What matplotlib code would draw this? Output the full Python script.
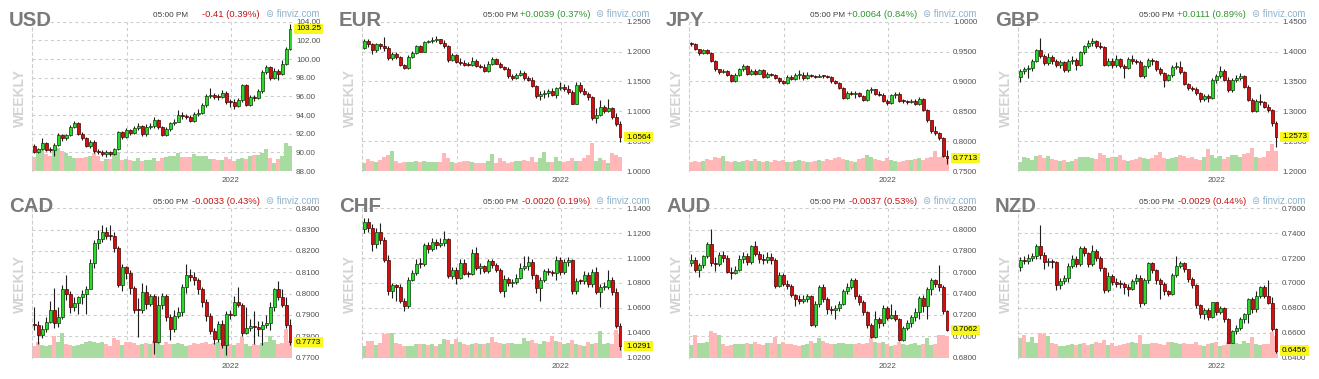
import matplotlib.pyplot as plt
import matplotlib.transforms as mtransforms
from matplotlib.ticker import FormatStrFormatter
import numpy as np

plt.rcParams['font.family'] = ['Liberation Sans', 'DejaVu Sans']
plt.rcParams['lines.scale_dashes'] = False

W, H = 1319, 379

# ---- datos semanales ----
usd_open0 = 90.7
usd_close = [90.0, 90.35, 91.0, 90.3, 90.2, 90.8, 91.9, 91.5, 91.85, 92.7,
             93.1, 92.0, 91.5, 90.7, 91.1, 90.1, 90.0, 89.8, 90.0, 89.8,
             90.35, 92.15, 91.6, 92.4, 92.1, 92.6, 92.8, 92.0, 92.75, 92.85,
             93.5, 92.7, 91.9, 92.5, 93.1, 93.3, 94.0, 93.85, 93.8, 93.4,
             94.1, 94.25, 95.1, 96.0, 96.1, 95.95, 95.9, 96.4, 95.4, 95.35,
             95.0, 95.6, 97.2, 95.1, 95.9, 95.8, 96.6, 98.6, 99.1, 98.0,
             98.7, 98.4, 99.5, 101.1, 103.25]
usd_high = [90.9, 90.5, 91.5, 91.1, 90.6, 91.0, 92.1, 92.0, 92.0, 92.9,
            93.4, 93.2, 92.2, 91.6, 91.3, 91.3, 90.4, 90.2, 90.2, 90.1,
            90.5, 92.3, 92.3, 92.6, 92.5, 92.8, 93.1, 92.9, 93.0, 93.1,
            93.8, 93.6, 92.8, 92.7, 93.3, 93.6, 94.5, 94.3, 94.1, 94.0,
            94.3, 94.6, 95.3, 96.3, 96.9, 96.4, 96.3, 96.7, 96.6, 95.7,
            95.7, 95.8, 97.3, 97.3, 96.1, 96.1, 96.8, 98.8, 99.4, 99.3,
            99.0, 98.9, 99.9, 101.3, 103.8]
usd_low = [89.9, 89.9, 90.3, 90.1, 90.0, 89.6, 90.7, 91.2, 91.3, 91.8,
           92.6, 91.9, 91.3, 90.6, 90.5, 89.9, 89.8, 89.6, 89.5, 89.6,
           89.7, 90.2, 91.4, 91.5, 91.9, 92.0, 92.4, 91.8, 91.8, 92.5,
           92.6, 92.5, 91.7, 91.8, 92.3, 92.9, 93.2, 93.6, 93.6, 93.2,
           93.3, 93.9, 94.1, 94.9, 95.8, 95.7, 95.6, 95.8, 95.2, 94.9,
           94.6, 94.9, 95.4, 95.0, 95.0, 95.5, 95.7, 96.4, 98.4, 97.7,
           97.9, 97.7, 98.3, 99.4, 101.0]
usd_vol = [14, 18, 22, 17, 15, 20, 23, 20, 18, 15, 13, 13, 13, 14, 15, 18, 15, 10, 12, 12,
           18, 19, 11, 12, 11, 10, 13, 10, 11, 11, 13, 10, 13, 14, 15, 15, 18, 14, 14, 14,
           17, 15, 15, 15, 12, 12, 11, 11, 14, 12, 10, 12, 13, 12, 15, 16, 16, 18, 22, 13,
           8, 12, 15, 28, 25]

eur_open0 = 1.2063
eur_close = [1.2175, 1.212, 1.2025, 1.212, 1.209, 1.2065, 1.189, 1.196, 1.191, 1.178,
             1.1725, 1.191, 1.198, 1.209, 1.200, 1.216, 1.2175, 1.220, 1.2205, 1.2145,
             1.210, 1.1865, 1.195, 1.182, 1.181, 1.178, 1.177, 1.185, 1.175, 1.174,
             1.168, 1.180, 1.188, 1.180, 1.174, 1.171, 1.1585, 1.156, 1.161, 1.164,
             1.156, 1.153, 1.142, 1.126, 1.1295, 1.131, 1.1335, 1.128, 1.139, 1.140,
             1.1375, 1.132, 1.113, 1.1445, 1.1335, 1.1295, 1.124, 1.089, 1.094, 1.107,
             1.100, 1.1055, 1.090, 1.079, 1.0564]
eur_high = [1.2205, 1.2215, 1.214, 1.2145, 1.2135, 1.2245, 1.2085, 1.199, 1.1985, 1.192,
            1.180, 1.1935, 1.2015, 1.2105, 1.211, 1.2175, 1.2200, 1.2245, 1.2265, 1.2215,
            1.2195, 1.2115, 1.1975, 1.196, 1.1885, 1.1855, 1.1830, 1.1905, 1.1875, 1.1785,
            1.1785, 1.1835, 1.1905, 1.1885, 1.1825, 1.1755, 1.1745, 1.162, 1.1645, 1.1695,
            1.167, 1.1595, 1.1575, 1.1435, 1.1335, 1.135, 1.1375, 1.1385, 1.1410, 1.1485,
            1.145, 1.1435, 1.1355, 1.1495, 1.1495, 1.1385, 1.1325, 1.1255, 1.1060, 1.1185,
            1.1105, 1.1205, 1.1065, 1.0965, 1.0835]
eur_low = [1.2035, 1.2075, 1.1955, 1.1995, 1.2045, 1.2010, 1.1855, 1.1855, 1.1875, 1.1755,
           1.1705, 1.1705, 1.1900, 1.1955, 1.1985, 1.1985, 1.2135, 1.2145, 1.2160, 1.2130,
           1.2065, 1.1825, 1.1845, 1.1805, 1.1780, 1.1765, 1.1750, 1.1760, 1.1735, 1.1725,
           1.1665, 1.1665, 1.1775, 1.1785, 1.1725, 1.1685, 1.1555, 1.1525, 1.1545, 1.1585,
           1.1530, 1.1505, 1.1400, 1.1220, 1.1185, 1.1225, 1.1235, 1.1255, 1.1225, 1.1355,
           1.1345, 1.1285, 1.1120, 1.1120, 1.1305, 1.1275, 1.1195, 1.0860, 1.0805, 1.0925,
           1.0965, 1.0985, 1.0875, 1.0760, 1.0485]
eur_vol = [8, 12, 10, 9, 11, 14, 16, 20, 10, 8, 9, 9, 9, 10, 9, 10, 9, 9, 9, 9,
           18, 13, 9, 8, 9, 10, 10, 9, 8, 8, 8, 10, 17, 8, 13, 10, 8, 9, 10, 10,
           11, 10, 14, 9, 13, 19, 9, 9, 14, 10, 9, 10, 13, 10, 10, 13, 16, 28, 10, 13,
           11, 8, 18, 16, 14]

jpy_open0 = 0.9640
jpy_close = [0.9632, 0.9535, 0.9468, 0.952, 0.948, 0.934, 0.920, 0.9154, 0.9170, 0.9110,
             0.9013, 0.9115, 0.920, 0.9266, 0.913, 0.918, 0.913, 0.9187, 0.9075, 0.913,
             0.911, 0.906, 0.900, 0.8975, 0.9075, 0.904, 0.910, 0.9115, 0.905, 0.9115,
             0.9095, 0.908, 0.9095, 0.9085, 0.908, 0.900, 0.8975, 0.889, 0.872, 0.881,
             0.879, 0.881, 0.875, 0.8694, 0.885, 0.8873, 0.8795, 0.878, 0.868, 0.8638,
             0.878, 0.8795, 0.8666, 0.8664, 0.866, 0.8675, 0.8627, 0.8705, 0.8526, 0.8347,
             0.8162, 0.8133, 0.805, 0.7752, 0.7713]
jpy_high = [0.9665, 0.9650, 0.9550, 0.9545, 0.9540, 0.9500, 0.9360, 0.9215, 0.9215, 0.9190,
            0.9125, 0.9135, 0.9225, 0.9290, 0.9275, 0.9210, 0.9200, 0.9215, 0.9200, 0.9150,
            0.9145, 0.9125, 0.9075, 0.9020, 0.9100, 0.9100, 0.9140, 0.9190, 0.9150, 0.9150,
            0.9130, 0.9115, 0.9130, 0.9115, 0.9105, 0.9090, 0.9020, 0.8990, 0.8900, 0.8835,
            0.8840, 0.8840, 0.8825, 0.8770, 0.8865, 0.8900, 0.8880, 0.8835, 0.8800, 0.8700,
            0.8790, 0.8820, 0.8815, 0.8700, 0.8690, 0.8700, 0.8705, 0.8735, 0.8720, 0.8540,
            0.8360, 0.8250, 0.8160, 0.8070, 0.7845]
jpy_low = [0.9600, 0.9520, 0.9440, 0.9455, 0.9455, 0.9320, 0.9180, 0.9130, 0.9140, 0.9085,
           0.8990, 0.8995, 0.9095, 0.9175, 0.9115, 0.9110, 0.9105, 0.9120, 0.9050, 0.9065,
           0.9085, 0.9035, 0.8980, 0.8955, 0.8960, 0.9020, 0.9020, 0.9035, 0.9030, 0.9035,
           0.9075, 0.9060, 0.9070, 0.9065, 0.9060, 0.8980, 0.8950, 0.8870, 0.8700, 0.8700,
           0.8765, 0.8730, 0.8735, 0.8665, 0.8670, 0.8810, 0.8775, 0.8760, 0.8660, 0.8600,
           0.8620, 0.8730, 0.8650, 0.8635, 0.8620, 0.8640, 0.8600, 0.8600, 0.8500, 0.8320,
           0.8130, 0.8100, 0.8020, 0.7735, 0.7625]
jpy_vol = [9, 10, 9, 10, 12, 11, 14, 13, 15, 10, 9, 10, 9, 10, 11, 10, 12, 10, 9, 10,
           9, 11, 10, 11, 9, 9, 10, 11, 10, 9, 9, 10, 11, 10, 12, 11, 13, 14, 12, 11,
           10, 9, 12, 13, 16, 14, 12, 11, 10, 13, 11, 10, 9, 10, 11, 11, 12, 13, 11, 13,
           14, 20, 14, 15, 12]

gbp_open0 = 1.3575
gbp_close = [1.367, 1.370, 1.3726, 1.385, 1.402, 1.392, 1.381, 1.391, 1.384, 1.378,
             1.382, 1.3687, 1.384, 1.3866, 1.378, 1.399, 1.409, 1.4147, 1.4175, 1.410,
             1.408, 1.378, 1.384, 1.378, 1.388, 1.3755, 1.3726, 1.388, 1.384, 1.383,
             1.3586, 1.3755, 1.3866, 1.3840, 1.371, 1.3642, 1.353, 1.360, 1.374, 1.3745,
             1.3654, 1.3463, 1.339, 1.3375, 1.3306, 1.3205, 1.326, 1.3222, 1.353, 1.3586,
             1.367, 1.353, 1.335, 1.352, 1.356, 1.3586, 1.3407, 1.3194, 1.300, 1.3166,
             1.3155, 1.307, 1.3015, 1.280, 1.2573]
gbp_high = [1.3710, 1.3745, 1.3775, 1.3880, 1.4040, 1.4230, 1.3965, 1.3970, 1.3950, 1.3875,
            1.3860, 1.3850, 1.3875, 1.3930, 1.3900, 1.4010, 1.4110, 1.4200, 1.4220, 1.4200,
            1.4160, 1.4090, 1.3890, 1.3890, 1.3950, 1.3890, 1.3790, 1.3910, 1.3940, 1.3880,
            1.3860, 1.3780, 1.3890, 1.3900, 1.3860, 1.3740, 1.3660, 1.3630, 1.3770, 1.3830,
            1.3840, 1.3680, 1.3480, 1.3430, 1.3400, 1.3320, 1.3290, 1.3290, 1.3560, 1.3620,
            1.3750, 1.3700, 1.3580, 1.3560, 1.3600, 1.3640, 1.3610, 1.3440, 1.3220, 1.3200,
            1.3290, 1.3180, 1.3120, 1.3040, 1.2840]
gbp_low = [1.3490, 1.3620, 1.3560, 1.3680, 1.3820, 1.3890, 1.3780, 1.3780, 1.3800, 1.3740,
           1.3720, 1.3660, 1.3650, 1.3790, 1.3690, 1.3760, 1.3960, 1.4060, 1.4100, 1.4060,
           1.4040, 1.3760, 1.3750, 1.3720, 1.3740, 1.3720, 1.3560, 1.3700, 1.3800, 1.3790,
           1.3570, 1.3560, 1.3730, 1.3770, 1.3680, 1.3610, 1.3410, 1.3510, 1.3570, 1.3700,
           1.3620, 1.3440, 1.3350, 1.3340, 1.3280, 1.3160, 1.3170, 1.3160, 1.3200, 1.3480,
           1.3560, 1.3510, 1.3330, 1.3330, 1.3490, 1.3520, 1.3390, 1.3170, 1.2990, 1.2980,
           1.3100, 1.3050, 1.2990, 1.2760, 1.2410]
gbp_vol = [9, 14, 13, 11, 15, 16, 13, 15, 12, 11, 10, 11, 9, 10, 12, 14, 14, 14, 13, 12,
           18, 16, 13, 14, 14, 16, 11, 10, 11, 12, 14, 13, 12, 13, 16, 19, 13, 12, 13, 14,
           16, 15, 13, 14, 12, 11, 14, 22, 16, 13, 15, 12, 14, 16, 16, 14, 17, 18, 23, 14,
           13, 14, 20, 27, 20]

cad_open0 = 0.7855
cad_close = [0.7852, 0.7805, 0.7832, 0.7868, 0.7922, 0.7860, 0.7890, 0.8021, 0.7996, 0.7935,
             0.7955, 0.7982, 0.7998, 0.8020, 0.8142, 0.8236, 0.8254, 0.8290, 0.8270, 0.8268,
             0.8212, 0.8040, 0.8123, 0.8095, 0.8024, 0.7925, 0.7922, 0.8009, 0.7951, 0.7988,
             0.7774, 0.7946, 0.7988, 0.7891, 0.7832, 0.7894, 0.7915, 0.8029, 0.8087, 0.8080,
             0.8066, 0.8020, 0.7962, 0.7894, 0.7825, 0.7785, 0.7857, 0.7758, 0.7904, 0.7900,
             0.7962, 0.7946, 0.7813, 0.7841, 0.7847, 0.7844, 0.7832, 0.7852, 0.7863, 0.7938,
             0.8020, 0.7982, 0.7946, 0.7852, 0.7773]
cad_high = [0.7935, 0.7870, 0.7855, 0.7890, 0.7965, 0.8024, 0.7935, 0.8040, 0.8087, 0.8010,
            0.7985, 0.7990, 0.8015, 0.8035, 0.8160, 0.8250, 0.8300, 0.8320, 0.8310, 0.8322,
            0.8290, 0.8225, 0.8140, 0.8130, 0.8110, 0.8035, 0.7980, 0.8048, 0.8040, 0.8000,
            0.8000, 0.7990, 0.8005, 0.8000, 0.7905, 0.7925, 0.7935, 0.8045, 0.8138, 0.8115,
            0.8100, 0.8075, 0.8030, 0.7975, 0.7910, 0.7840, 0.7870, 0.7875, 0.7920, 0.7925,
            0.7990, 0.8029, 0.7955, 0.7935, 0.7880, 0.7920, 0.7870, 0.7870, 0.7900, 0.7960,
            0.8025, 0.8060, 0.8020, 0.7985, 0.7880]
cad_low = [0.7830, 0.7763, 0.7790, 0.7820, 0.7860, 0.7840, 0.7845, 0.7880, 0.7970, 0.7910,
           0.7920, 0.7905, 0.7950, 0.7905, 0.8085, 0.8120, 0.8210, 0.8240, 0.8255, 0.8250,
           0.8195, 0.8030, 0.8010, 0.8070, 0.8000, 0.7910, 0.7797, 0.7910, 0.7930, 0.7940,
           0.7719, 0.7770, 0.7930, 0.7870, 0.7782, 0.7820, 0.7885, 0.7895, 0.8005, 0.8060,
           0.8040, 0.8000, 0.7935, 0.7870, 0.7810, 0.7765, 0.7775, 0.7745, 0.7711, 0.7880,
           0.7895, 0.7935, 0.7800, 0.7810, 0.7825, 0.7765, 0.7800, 0.7760, 0.7840, 0.7830,
           0.7920, 0.7970, 0.7935, 0.7840, 0.7760]
cad_vol = [12, 16, 13, 12, 13, 22, 16, 25, 14, 13, 12, 13, 14, 16, 17, 16, 15, 16, 14, 12,
           20, 18, 13, 16, 16, 15, 13, 14, 15, 14, 17, 16, 13, 16, 14, 14, 15, 14, 12, 13,
           15, 14, 15, 16, 14, 15, 16, 15, 17, 14, 13, 15, 21, 14, 12, 14, 13, 15, 16, 22,
           18, 14, 15, 29, 17]

chf_open0 = 1.1230
chf_close = [1.1292, 1.1238, 1.1111, 1.1211, 1.1144, 1.0987, 1.0734, 1.0780, 1.0766, 1.0658,
             1.0618, 1.0826, 1.0880, 1.0955, 1.0950, 1.1103, 1.1076, 1.1130, 1.1103, 1.1120,
             1.1150, 1.0853, 1.0901, 1.0842, 1.0960, 1.0874, 1.0869, 1.1041, 1.0923, 1.0934,
             1.0896, 1.0977, 1.0942, 1.0901, 1.0739, 1.0834, 1.0799, 1.0807, 1.0842, 1.0923,
             1.0934, 1.0969, 1.0861, 1.0761, 1.0826, 1.0896, 1.0890, 1.0882, 1.0987, 1.0888,
             1.0969, 1.0982, 1.0734, 1.0815, 1.0812, 1.0861, 1.0788, 1.0888, 1.0726, 1.0766,
             1.0770, 1.0826, 1.0726, 1.0456, 1.0291]
chf_high = [1.1320, 1.1325, 1.1275, 1.1240, 1.1279, 1.1170, 1.1025, 1.0800, 1.0795, 1.0790,
            1.0680, 1.0850, 1.0905, 1.0990, 1.1000, 1.1125, 1.1130, 1.1160, 1.1150, 1.1160,
            1.1220, 1.1165, 1.0930, 1.0925, 1.0990, 1.0990, 1.0900, 1.1070, 1.1090, 1.0960,
            1.0945, 1.0995, 1.0990, 1.0960, 1.0920, 1.0860, 1.0850, 1.0835, 1.0870, 1.0960,
            1.1015, 1.1014, 1.0990, 1.0870, 1.0845, 1.0910, 1.0920, 1.0905, 1.1015, 1.1005,
            1.0990, 1.1010, 1.0995, 1.0840, 1.0835, 1.0900, 1.0890, 1.0910, 1.0930, 1.0790,
            1.0805, 1.0905, 1.0845, 1.0760, 1.0480]
chf_low = [1.1205, 1.1210, 1.1057, 1.1080, 1.1110, 1.0965, 1.0700, 1.0680, 1.0658, 1.0640,
           1.0572, 1.0600, 1.0815, 1.0860, 1.0920, 1.0935, 1.1040, 1.1060, 1.1075, 1.1085,
           1.1100, 1.0840, 1.0830, 1.0793, 1.0830, 1.0860, 1.0845, 1.0860, 1.0905, 1.0874,
           1.0880, 1.0880, 1.0920, 1.0890, 1.0720, 1.0690, 1.0775, 1.0770, 1.0790, 1.0830,
           1.0905, 1.0905, 1.0830, 1.0720, 1.0658, 1.0810, 1.0860, 1.0855, 1.0820, 1.0860,
           1.0870, 1.0940, 1.0710, 1.0715, 1.0790, 1.0790, 1.0770, 1.0770, 1.0715, 1.0605,
           1.0740, 1.0750, 1.0700, 1.0440, 1.0265]
chf_vol = [12, 17, 17, 13, 15, 24, 25, 25, 15, 14, 12, 12, 12, 14, 14, 14, 13, 14, 12, 14,
           19, 18, 14, 19, 16, 14, 13, 14, 15, 14, 14, 15, 21, 16, 15, 14, 15, 15, 14, 14,
           20, 17, 18, 15, 14, 17, 16, 22, 17, 16, 14, 15, 18, 14, 13, 12, 16, 14, 15, 27,
           14, 15, 14, 28, 24]

aud_open0 = 0.7687
aud_close = [0.7719, 0.7624, 0.7665, 0.7750, 0.7863, 0.7687, 0.7675, 0.7760, 0.7737, 0.7602,
             0.7593, 0.7624, 0.7728, 0.7750, 0.7697, 0.7844, 0.7775, 0.7728, 0.7712, 0.7744,
             0.7712, 0.7476, 0.7571, 0.7486, 0.7476, 0.7391, 0.7350, 0.7335, 0.7350, 0.7373,
             0.7108, 0.7303, 0.7461, 0.7350, 0.7256, 0.7247, 0.7266, 0.7303, 0.7423, 0.7461,
             0.7530, 0.7373, 0.7319, 0.7225, 0.7108, 0.6989, 0.7162, 0.7120, 0.7266, 0.7171,
             0.7203, 0.7162, 0.6964, 0.7077, 0.7120, 0.7184, 0.7225, 0.7360, 0.7288, 0.7445,
             0.7524, 0.7486, 0.7461, 0.7234, 0.7062]
aud_high = [0.7775, 0.7740, 0.7690, 0.7765, 0.7880, 0.8002, 0.7745, 0.7790, 0.7800, 0.7760,
            0.7650, 0.7660, 0.7760, 0.7790, 0.7780, 0.7860, 0.7895, 0.7800, 0.7770, 0.7790,
            0.7780, 0.7730, 0.7600, 0.7590, 0.7530, 0.7490, 0.7400, 0.7390, 0.7385, 0.7400,
            0.7390, 0.7330, 0.7480, 0.7490, 0.7370, 0.7280, 0.7290, 0.7330, 0.7440, 0.7500,
            0.7549, 0.7550, 0.7400, 0.7340, 0.7240, 0.7120, 0.7235, 0.7185, 0.7290, 0.7280,
            0.7303, 0.7250, 0.7175, 0.7100, 0.7150, 0.7200, 0.7265, 0.7380, 0.7390, 0.7460,
            0.7550, 0.7540, 0.7665, 0.7480, 0.7250]
aud_low = [0.7660, 0.7600, 0.7560, 0.7640, 0.7730, 0.7660, 0.7610, 0.7660, 0.7700, 0.7590,
           0.7540, 0.7580, 0.7610, 0.7690, 0.7670, 0.7680, 0.7750, 0.7690, 0.7680, 0.7690,
           0.7680, 0.7450, 0.7460, 0.7470, 0.7440, 0.7370, 0.7288, 0.7300, 0.7310, 0.7320,
           0.7095, 0.7090, 0.7270, 0.7320, 0.7210, 0.7210, 0.7160, 0.7240, 0.7290, 0.7400,
           0.7440, 0.7350, 0.7290, 0.7200, 0.7080, 0.6980, 0.6980, 0.7080, 0.7100, 0.7150,
           0.7160, 0.7140, 0.6955, 0.6960, 0.7060, 0.7090, 0.7140, 0.7160, 0.7230, 0.7162,
           0.7390, 0.7460, 0.7420, 0.7210, 0.7045]
aud_vol = [13, 23, 15, 15, 16, 27, 25, 23, 14, 12, 13, 14, 14, 14, 15, 14, 16, 14, 13, 15,
           15, 21, 14, 16, 14, 14, 13, 12, 13, 14, 17, 15, 20, 17, 15, 14, 14, 15, 15, 14,
           14, 14, 15, 14, 15, 20, 16, 15, 16, 14, 12, 13, 16, 14, 13, 14, 15, 13, 14, 20,
           13, 14, 23, 23, 22]

nzd_open0 = 0.7128
nzd_close = [0.7181, 0.7173, 0.7200, 0.7219, 0.7293, 0.7227, 0.7165, 0.7173, 0.7165, 0.6987,
             0.7013, 0.7040, 0.7139, 0.7192, 0.7155, 0.7280, 0.7240, 0.7155, 0.7253, 0.7200,
             0.7120, 0.6941, 0.7059, 0.7005, 0.6995, 0.6990, 0.6968, 0.6952, 0.7013, 0.7040,
             0.6835, 0.7027, 0.7160, 0.7107, 0.7027, 0.6995, 0.6933, 0.6915, 0.7067, 0.7133,
             0.7160, 0.7112, 0.7032, 0.6987, 0.6819, 0.6747, 0.6781, 0.6728, 0.6845, 0.6765,
             0.6800, 0.6712, 0.6520, 0.6613, 0.6640, 0.6712, 0.6747, 0.6867, 0.6787, 0.6899,
             0.6968, 0.6899, 0.6840, 0.6627, 0.6456]
nzd_high = [0.7210, 0.7215, 0.7230, 0.7240, 0.7310, 0.7467, 0.7250, 0.7200, 0.7195, 0.7175,
            0.7040, 0.7060, 0.7160, 0.7225, 0.7215, 0.7300, 0.7295, 0.7250, 0.7307, 0.7270,
            0.7220, 0.7130, 0.7090, 0.7070, 0.7040, 0.7020, 0.7010, 0.6990, 0.7030, 0.7070,
            0.7060, 0.7040, 0.7170, 0.7170, 0.7115, 0.7040, 0.7010, 0.6945, 0.7080, 0.7215,
            0.7175, 0.7170, 0.7115, 0.7050, 0.6990, 0.6830, 0.6800, 0.6795, 0.6850, 0.6850,
            0.6815, 0.6810, 0.6715, 0.6625, 0.6660, 0.6730, 0.6760, 0.6880, 0.6890, 0.6935,
            0.6975, 0.6985, 0.7027, 0.6890, 0.6640]
nzd_low = [0.7093, 0.7150, 0.7150, 0.7180, 0.7190, 0.7195, 0.7110, 0.7140, 0.7120, 0.6947,
           0.6950, 0.6995, 0.7010, 0.7120, 0.7130, 0.7140, 0.7220, 0.7130, 0.7140, 0.7180,
           0.7100, 0.6920, 0.6930, 0.6985, 0.6970, 0.6960, 0.6915, 0.6893, 0.6940, 0.6990,
           0.6805, 0.6820, 0.7000, 0.7080, 0.6990, 0.6867, 0.6900, 0.6895, 0.6905, 0.7050,
           0.7120, 0.7090, 0.7010, 0.6960, 0.6800, 0.6720, 0.6710, 0.6705, 0.6715, 0.6740,
           0.6750, 0.6690, 0.6515, 0.6530, 0.6590, 0.6620, 0.6680, 0.6680, 0.6760, 0.6770,
           0.6880, 0.6880, 0.6830, 0.6610, 0.6440]
nzd_vol = [20, 23, 16, 21, 15, 25, 24, 22, 15, 14, 12, 12, 13, 14, 13, 14, 15, 13, 14, 16,
           15, 18, 13, 15, 12, 13, 14, 15, 16, 15, 23, 14, 14, 15, 15, 14, 13, 16, 16, 15,
           14, 15, 14, 14, 16, 13, 12, 14, 15, 16, 12, 13, 16, 14, 15, 14, 17, 15, 21, 14,
           13, 14, 14, 26, 22]

# etiquetas
nombres = ['USD', 'EUR', 'JPY', 'GBP', 'CAD', 'CHF', 'AUD', 'NZD']
cambios = ['-0.41 (0.39%)', '+0.0039 (0.37%)', '+0.0064 (0.84%)', '+0.0111 (0.89%)',
           '-0.0033 (0.43%)', '-0.0020 (0.19%)', '-0.0037 (0.53%)', '-0.0029 (0.44%)']
ultimos = ['103.25', '1.0564', '0.7713', '1.2573', '0.7773', '1.0291', '0.7062', '0.6456']
rangos_y = [(88, 104, 2), (1.0, 1.25, 0.05), (0.75, 1.0, 0.05), (1.2, 1.45, 0.05),
            (0.77, 0.84, 0.01), (1.02, 1.14, 0.02), (0.68, 0.82, 0.02), (0.64, 0.76, 0.02)]
formatos = ['%.2f'] + ['%.4f'] * 7
marcas_x = [23.25, 49.25]
etiquetas_x = ['', '2022']

datos = [
    (usd_open0, usd_close, usd_high, usd_low, usd_vol),
    (eur_open0, eur_close, eur_high, eur_low, eur_vol),
    (jpy_open0, jpy_close, jpy_high, jpy_low, jpy_vol),
    (gbp_open0, gbp_close, gbp_high, gbp_low, gbp_vol),
    (cad_open0, cad_close, cad_high, cad_low, cad_vol),
    (chf_open0, chf_close, chf_high, chf_low, chf_vol),
    (aud_open0, aud_close, aud_high, aud_low, aud_vol),
    (nzd_open0, nzd_close, nzd_high, nzd_low, nzd_vol),
]

# colores
VERDE, BORDE_V = '#2bd92b', '#0e3a0e'
ROJO, BORDE_R = '#d20f0f', '#420000'
VOL_V, VOL_R = '#a8dba0', '#ffb7b7'
TXT_V, TXT_R = '#2f962f', '#c41414'
GRIS_GRID = '#cdcdcd'

# posicion de cada panel en pixeles (izquierda, arriba)
lefts = [32, 362, 689, 1018]
tops = [21.7, 208.3]
ANCHO, ALTO = 260, 149.3

fig = plt.figure(figsize=(W / 100, H / 100), dpi=100)
fig.patch.set_facecolor('white')


def fx(x):
    return x / W


def fy(y):
    return 1 - y / H


def panel(k):
    l = lefts[k % 4]
    t = tops[k // 4]
    open0, close, high, low, vol = datos[k]
    y0, y1, paso = rangos_y[k]

    ax = fig.add_axes([fx(l), fy(t + ALTO), ANCHO / W, ALTO / H])
    c = np.array(close)
    o = np.r_[open0, c[:-1]]
    hi = np.maximum(np.array(high), np.maximum(o, c))
    lo = np.minimum(np.array(low), np.minimum(o, c))
    x = np.arange(len(c))
    sube = c >= o

    # volumen en la parte baja
    esc = (y1 - y0) / ALTO
    ax.bar(x, np.array(vol) * esc, bottom=y0, width=1.0,
           color=[VOL_V if s else VOL_R for s in sube], linewidth=0, zorder=1)
    # mechas y cuerpos
    ax.vlines(x, lo, hi, color='#1e1e1e', linewidth=0.8, zorder=2)
    alto = np.maximum(np.abs(c - o), (y1 - y0) * 0.007)
    ax.bar(x, alto, bottom=np.minimum(o, c), width=0.75,
           color=[VERDE if s else ROJO for s in sube],
           edgecolor=[BORDE_V if s else BORDE_R for s in sube],
           linewidth=0.5, zorder=3)

    ax.set_xlim(-0.5, 64.5)
    ax.set_ylim(y0, y1)
    ax.set_yticks(np.arange(y0, y1 + paso / 2, paso))
    ax.yaxis.set_major_formatter(FormatStrFormatter(formatos[k]))
    ax.yaxis.tick_right()
    ax.set_xticks(marcas_x)
    ax.set_xticklabels(etiquetas_x)
    ax.tick_params(axis='y', length=0, pad=2.9, labelsize=5.8, labelcolor='#505050')
    ax.tick_params(axis='x', length=0, pad=4, labelsize=5.8, labelcolor='#505050')
    ax.grid(True, color=GRIS_GRID, linewidth=0.8, linestyle=(0, (2.2, 2.2)))
    ax.set_axisbelow(True)
    for s in ['top', 'right', 'bottom']:
        ax.spines[s].set_visible(False)
    ax.spines['left'].set_color(GRIS_GRID)
    ax.spines['left'].set_linewidth(0.8)
    ax.spines['left'].set_linestyle((0, (2.2, 2.2)))
    ax.patch.set_visible(False)

    # ultimo precio en caja amarilla
    tr = mtransforms.blended_transform_factory(ax.transAxes, ax.transData)
    tr = tr + mtransforms.ScaledTranslation(4 / 100, 0, fig.dpi_scale_trans)
    ax.text(1.0, c[-1], ultimos[k], transform=tr, ha='left', va='center',
            fontsize=5.9, color='black', zorder=10, clip_on=False,
            bbox=dict(boxstyle='square,pad=0.2', fc='#f8f81e', ec='none'))

    # textos del panel
    fig.text(fx(l - 23), fy(t + 4), nombres[k], fontsize=14.7, weight='bold',
             color='#7a7a7a', ha='left', va='baseline')
    fig.text(fx(l - 12), fy(t + 76), 'WEEKLY', rotation=90, fontsize=10,
             weight='bold', color='#d3d3d3', ha='center', va='center')
    yb = fy(t - 4.5)
    fig.text(fx(l + 121), yb, '05:00 PM', fontsize=5.9, color='#3c3c3c',
             ha='left', va='baseline')
    col = TXT_R if cambios[k].startswith('-') else TXT_V
    fig.text(fx(l + 228), yb, cambios[k], fontsize=6.8, color=col,
             ha='right', va='baseline')
    fig.text(fx(l + 234), yb, '\u229c finviz.com', fontsize=6.9, color='#8db2cb',
             ha='left', va='baseline')


for k in range(8):
    panel(k)

fig.savefig('out.png', dpi=100, facecolor='white')
